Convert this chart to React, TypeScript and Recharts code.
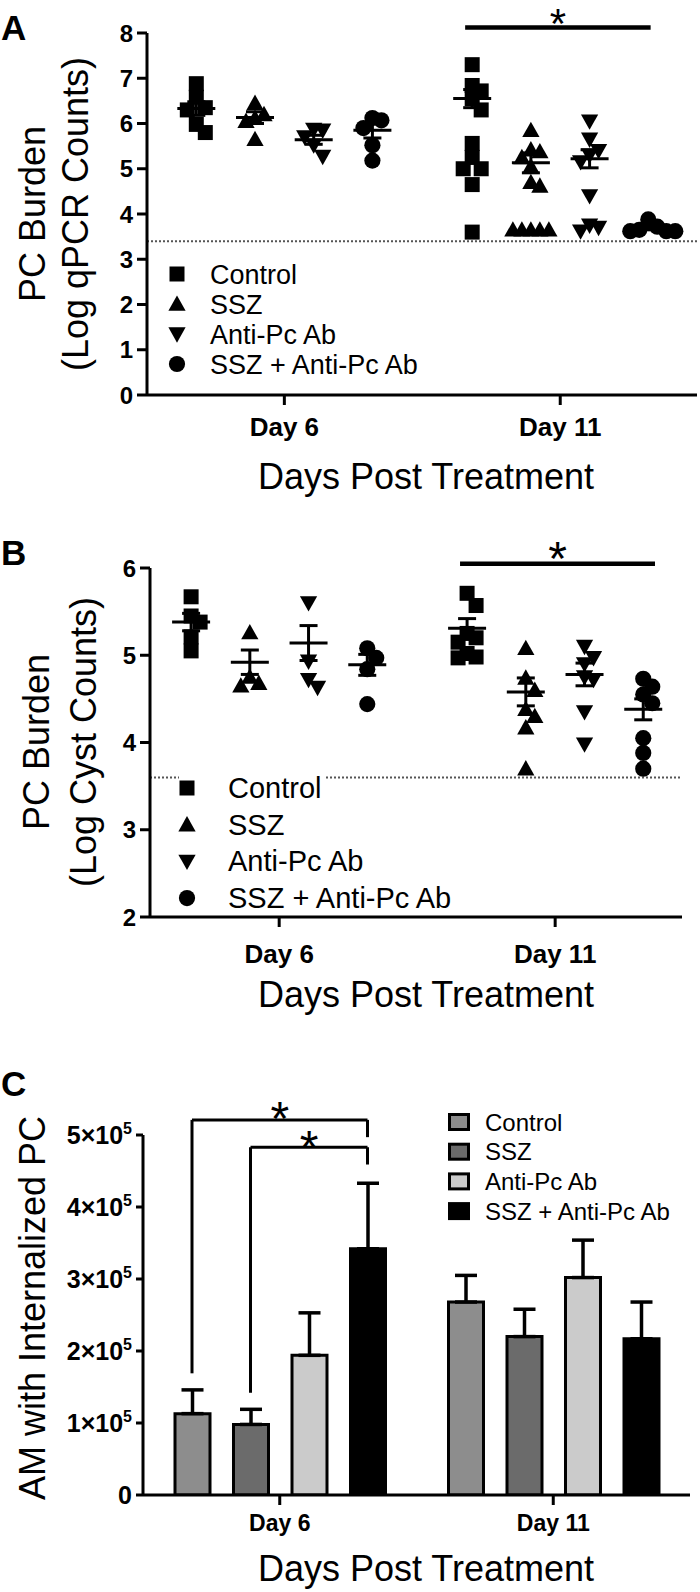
import React from "react";
import {
  ScatterChart,
  Scatter,
  BarChart,
  Bar,
  XAxis,
  YAxis,
  ReferenceLine,
  ErrorBar,
} from "recharts";

const FONT = "'Liberation Sans', Arial, Helvetica, sans-serif";
const INK = "#000";
const W = 700;

const groups = ["Control", "SSZ", "Anti-Pc Ab", "SSZ + Anti-Pc Ab"];
const days = ["Day 6", "Day 11"];

// A: PC burden, log qPCR counts — one inner list per day (day 6, day 11)
const qpcrControl = [
  [6.88, 6.58, 6.35, 6.3, 5.98, 5.8],
  [7.3, 6.84, 6.72, 6.55, 6.3, 5.56, 5.25, 5.0, 5.0, 4.65, 3.6],
];
const qpcrSsz = [
  [6.45, 6.2, 6.12, 6.05, 5.65],
  [5.85, 5.42, 5.38, 5.25, 5.05, 4.7, 4.62, 3.65, 3.65, 3.65, 3.65, 3.65],
];
const qpcrAnti = [
  [5.87, 5.85, 5.7, 5.52, 5.27],
  [6.05, 5.65, 5.4, 5.3, 5.15, 4.4, 3.75, 3.7, 3.62],
];
const qpcrCombo = [
  [6.12, 6.07, 5.9, 5.52, 5.18],
  [3.88, 3.72, 3.65, 3.62, 3.62, 3.62],
];
const qpcrMean = [[6.33, 6.55], [6.13, 5.13], [5.64, 5.22], [5.85, 3.68]];
const qpcrSem = [[0.15, 0.2], [0.13, 0.22], [0.1, 0.2], [0.17, 0.03]];
const qpcrTicks = [0, 1, 2, 3, 4, 5, 6, 7, 8];
const qpcrLimit = 3.4;

// B: PC burden, log cyst counts
const cystControl = [
  [5.67, 5.45, 5.38, 5.21, 5.05],
  [5.71, 5.57, 5.25, 5.2, 5.15, 5.02, 4.98, 4.97],
];
const cystSsz = [
  [5.26, 4.75, 4.68, 4.65],
  [5.08, 4.74, 4.6, 4.38, 4.3, 4.17, 3.7],
];
const cystAnti = [
  [5.6, 4.93, 4.72, 4.63],
  [5.1, 4.97, 4.9, 4.75, 4.72, 4.35, 3.98],
];
const cystCombo = [
  [5.08, 4.97, 4.84, 4.44],
  [4.73, 4.64, 4.55, 4.45, 4.05, 3.88, 3.7],
];
const cystMean = [[5.38, 5.31], [4.92, 4.58], [5.14, 4.78], [4.89, 4.38]];
const cystSem = [[0.1, 0.11], [0.14, 0.16], [0.2, 0.13], [0.12, 0.12]];
const cystTicks = [2, 3, 4, 5, 6];
const cystLimit = 3.6;

// C: AM with internalized PC (mean, SEM) per group, [day 6, day 11]
const amMean = [[1.13e5, 2.68e5], [0.98e5, 2.2e5], [1.94e5, 3.02e5], [3.42e5, 2.17e5]];
const amSem = [[0.33e5, 0.37e5], [0.21e5, 0.38e5], [0.59e5, 0.52e5], [0.91e5, 0.51e5]];
const amTicks = [0, 1e5, 2e5, 3e5, 4e5, 5e5];
const amFills = ["#8d8d8d", "#6b6b6b", "#cbcbcb", "#000000"];
// day-6 comparisons: [from group, to group, bracket height]
const amBrackets = [
  [0, 3, 5.21e5],
  [1, 3, 4.83e5],
];

const DAY_GAP = 4.7;

function Marker({ cx, cy, kind, s = 15 }: { cx: number; cy: number; kind: number; s?: number }) {
  const h = s / 2;
  if (kind === 0) return <rect x={cx - h} y={cy - h} width={s} height={s} fill={INK} />;
  if (kind === 3) return <circle cx={cx} cy={cy} r={h + 0.6} fill={INK} />;
  const t = h * 1.15;
  const d = kind === 1 ? 1 : -1;
  return (
    <polygon
      points={`${cx},${cy - d * t} ${cx + t},${cy + d * h * 0.9} ${cx - t},${cy + d * h * 0.9}`}
      fill={INK}
    />
  );
}

// simple beeswarm: spread points that sit too close vertically
function swarm(vals: number[], pxY: number, step = 9, gap = 13) {
  const order = vals.map((_, i) => i).sort((a, b) => vals[b] - vals[a]);
  const placed: { dx: number; y: number }[] = [];
  const out = vals.map(() => 0);
  for (const i of order) {
    const y = vals[i] * pxY;
    for (let k = 0; k < 30; k++) {
      const dx = k === 0 ? 0 : (k % 2 ? 1 : -1) * Math.ceil(k / 2) * step;
      if (placed.every((p) => Math.abs(p.dx - dx) >= step || Math.abs(p.y - y) >= gap)) {
        placed.push({ dx, y });
        out[i] = dx;
        break;
      }
    }
  }
  return out;
}

const star = (dy: number, size: number) => (p: any) => {
  const vb = p.viewBox ?? p;
  return (
    <text x={vb.x + vb.width / 2} y={vb.y + dy} textAnchor="middle" fontSize={size} fontFamily={FONT} fill={INK}>
      *
    </text>
  );
};

type DotCfg = {
  top: number;
  height: number;
  margin: { top: number; right: number; bottom: number; left: number };
  xDomain: [number, number];
  yDomain: [number, number];
  yTicks: number[];
  series: number[][][];
  mean: number[][];
  sem: number[][];
  limit: number;
  sig: { from: number; to: number; level: number; dy: number; size: number };
  tickGap: number;
};

const Y_W = 60;
const X_H = 44;
const axisLine = { stroke: INK, strokeWidth: 3 };
const tickFont = { fontSize: 24, fontWeight: 700, fill: INK, fontFamily: FONT };

function DotPanel({ cfg }: { cfg: DotCfg }) {
  const { margin, xDomain, yDomain } = cfg;
  const plotW = W - margin.left - margin.right - Y_W;
  const plotH = cfg.height - margin.top - margin.bottom - X_H;
  const unitX = plotW / (xDomain[1] - xDomain[0]);
  const pxY = plotH / (yDomain[1] - yDomain[0]);
  const dayTicks = days.map((_, d) => d * DAY_GAP + 1.5);
  const summary = groups.flatMap((_, g) =>
    days.map((__, d) => ({ x: d * DAY_GAP + g, y: cfg.mean[g][d], err: cfg.sem[g][d] }))
  );
  return (
    <div style={{ position: "absolute", left: 0, top: cfg.top, width: W, height: cfg.height }}>
      <ScatterChart width={W} height={cfg.height} margin={margin}>
        <XAxis
          type="number"
          dataKey="x"
          domain={xDomain}
          allowDataOverflow
          ticks={dayTicks}
          interval={0}
          tickFormatter={(_v: number, i: number) => days[i]}
          height={X_H}
          axisLine={axisLine}
          tickLine={axisLine}
          tickSize={10}
          tickMargin={cfg.tickGap}
          tick={{ ...tickFont, fontSize: 26 }}
        />
        <YAxis
          type="number"
          dataKey="y"
          domain={yDomain}
          allowDataOverflow
          ticks={cfg.yTicks}
          interval={0}
          width={Y_W}
          axisLine={axisLine}
          tickLine={axisLine}
          tickSize={10}
          tickMargin={4}
          tick={tickFont}
        />
        <ReferenceLine y={cfg.limit} stroke="#555" strokeWidth={2} strokeDasharray="2 2" />
        {cfg.series.map((s, g) => {
          const pts = s.flatMap((vals, d) => {
            const off = swarm(vals, pxY);
            return vals.map((v, i) => ({ x: d * DAY_GAP + g + off[i] / unitX, y: v }));
          });
          return (
            <Scatter
              key={g}
              name={groups[g]}
              data={pts}
              isAnimationActive={false}
              shape={(p: any) => <Marker cx={p.cx} cy={p.cy} kind={g} />}
            />
          );
        })}
        <Scatter
          data={summary}
          isAnimationActive={false}
          shape={(p: any) => (
            <line x1={p.cx - 19} x2={p.cx + 19} y1={p.cy} y2={p.cy} stroke={INK} strokeWidth={3} />
          )}
        >
          <ErrorBar dataKey="err" direction="y" width={9} strokeWidth={3} stroke={INK} />
        </Scatter>
        <ReferenceLine
          segment={[
            { x: cfg.sig.from, y: cfg.sig.level },
            { x: cfg.sig.to, y: cfg.sig.level },
          ]}
          ifOverflow="visible"
          stroke={INK}
          strokeWidth={4.5}
          label={star(cfg.sig.dy, cfg.sig.size)}
        />
      </ScatterChart>
    </div>
  );
}

const panelA: DotCfg = {
  top: 0,
  height: 454,
  margin: { top: 33, right: 3, bottom: 15, left: 87 },
  xDomain: [-0.84, 8.53],
  yDomain: [0, 8],
  yTicks: qpcrTicks,
  series: [qpcrControl, qpcrSsz, qpcrAnti, qpcrCombo],
  mean: qpcrMean,
  sem: qpcrSem,
  limit: qpcrLimit,
  sig: { from: 4.58, to: 7.74, level: 8.12, dy: 10.5, size: 42 },
  tickGap: 13,
};

const panelB: DotCfg = {
  top: 500,
  height: 474,
  margin: { top: 68, right: 18, bottom: 13, left: 90 },
  xDomain: [-0.7, 8.36],
  yDomain: [2, 6],
  yTicks: cystTicks,
  series: [cystControl, cystSsz, cystAnti, cystCombo],
  mean: cystMean,
  sem: cystSem,
  limit: cystLimit,
  sig: { from: 4.58, to: 7.9, level: 6.05, dy: 11, size: 48 },
  tickGap: 18,
};

// panel C layout
const C_TOP = 1060;
const C_H = 490;
const C_MARGIN = { top: 75, right: 10, bottom: 11, left: 73 };
const C_YW = 70;
const BAR = 35;
const BAR_GAP = 23.5;

function AmTick(p: any) {
  const v = p.payload.value as number;
  return (
    <text x={p.x} y={p.y} dy="0.36em" textAnchor="end" fontSize={25} fontWeight={700} fontFamily={FONT} fill={INK}>
      {v === 0 ? (
        "0"
      ) : (
        <>
          {v / 1e5}×10
          <tspan dy={-10} fontSize={16}>
            5
          </tspan>
        </>
      )}
    </text>
  );
}

function BarPanel() {
  const plotW = W - C_MARGIN.left - C_MARGIN.right - C_YW;
  const unit = BAR + BAR_GAP;
  const d0 = -(plotW / 4 - 1.5 * unit) / unit;
  const slotDomain: [number, number] = [d0, d0 + plotW / unit];
  const rows = days.map((day, d) => {
    const r: Record<string, any> = { day };
    groups.forEach((_, g) => {
      r[`m${g}`] = amMean[g][d];
      r[`e${g}`] = [0, amSem[g][d]];
    });
    return r;
  });
  const legGap = 0.23e5;
  const drop = 0.24e5;
  return (
    <div style={{ position: "absolute", left: 0, top: C_TOP, width: W, height: C_H }}>
      <BarChart width={W} height={C_H} data={rows} margin={C_MARGIN} barGap={BAR_GAP}>
        <XAxis
          dataKey="day"
          height={X_H}
          axisLine={axisLine}
          tickLine={axisLine}
          tickSize={10}
          tickMargin={10}
          tick={{ ...tickFont, fontSize: 23 }}
        />
        <XAxis xAxisId="slot" type="number" dataKey="slot" domain={slotDomain} allowDataOverflow hide />
        <YAxis
          type="number"
          domain={[0, 5e5]}
          allowDataOverflow
          ticks={amTicks}
          interval={0}
          width={C_YW}
          axisLine={axisLine}
          tickLine={axisLine}
          tickSize={7}
          tickMargin={4}
          tick={(p: any) => <AmTick {...p} />}
        />
        {groups.map((name, g) => (
          <Bar
            key={g}
            dataKey={`m${g}`}
            name={name}
            fill={amFills[g]}
            stroke={INK}
            strokeWidth={3}
            barSize={BAR}
            isAnimationActive={false}
          >
            <ErrorBar dataKey={`e${g}`} direction="y" width={11} strokeWidth={3.5} stroke={INK} />
          </Bar>
        ))}
        {amBrackets.map(([from, to, top], k) => {
          const leftEnd = amMean[from][0] + amSem[from][0] + legGap;
          return (
            <React.Fragment key={k}>
              <ReferenceLine
                xAxisId="slot"
                ifOverflow="visible"
                stroke={INK}
                strokeWidth={3}
                segment={[{ x: from, y: leftEnd }, { x: from, y: top }]}
              />
              <ReferenceLine
                xAxisId="slot"
                ifOverflow="visible"
                stroke={INK}
                strokeWidth={3}
                segment={[{ x: from, y: top }, { x: to, y: top }]}
                label={star(k === 0 ? 15 : 17, 48)}
              />
              <ReferenceLine
                xAxisId="slot"
                ifOverflow="visible"
                stroke={INK}
                strokeWidth={3}
                segment={[{ x: to, y: top }, { x: to, y: top - drop }]}
              />
            </React.Fragment>
          );
        })}
      </BarChart>
    </div>
  );
}

function Overlay() {
  const t = { fontFamily: FONT, fill: INK };
  const legA = groups.map((g, i) => ({ g, y: 274 + i * 30 }));
  const legB = groups.map((g, i) => ({ g, y: 788 + i * 36.7 }));
  const legC = groups.map((g, i) => ({ g, y: 1122 + i * 29.7 }));
  return (
    <svg width={W} height={1592} style={{ position: "absolute", left: 0, top: 0, pointerEvents: "none" }}>
      <text x={1} y={40} fontSize={35} fontWeight={700} {...t}>A</text>
      <text x={1} y={565} fontSize={35} fontWeight={700} {...t}>B</text>
      <text x={1} y={1096} fontSize={35} fontWeight={700} {...t}>C</text>

      <text transform="translate(45,214) rotate(-90)" textAnchor="middle" fontSize={36} {...t}>PC Burden</text>
      <text transform="translate(88,214) rotate(-90)" textAnchor="middle" fontSize={36} {...t}>(Log qPCR Counts)</text>
      <text transform="translate(49,742) rotate(-90)" textAnchor="middle" fontSize={36} {...t}>PC Burden</text>
      <text transform="translate(96,742) rotate(-90)" textAnchor="middle" fontSize={36} {...t}>(Log Cyst Counts)</text>
      <text transform="translate(45,1308) rotate(-90)" textAnchor="middle" fontSize={36} {...t}>AM with Internalized PC</text>

      <text x={426} y={489} textAnchor="middle" fontSize={36} {...t}>Days Post Treatment</text>
      <text x={426} y={1007} textAnchor="middle" fontSize={36} {...t}>Days Post Treatment</text>
      <text x={426} y={1581} textAnchor="middle" fontSize={36} {...t}>Days Post Treatment</text>

      {legA.map(({ g, y }, i) => (
        <g key={`a${i}`}>
          <Marker cx={177} cy={y} kind={i} />
          <text x={210} y={y + 9.5} fontSize={27} {...t}>{g}</text>
        </g>
      ))}
      <rect x={179} y={legB[0].y - 14} width={145} height={28} fill="#fff" />
      {legB.map(({ g, y }, i) => (
        <g key={`b${i}`}>
          <Marker cx={187} cy={y} kind={i} />
          <text x={228} y={y + 10} fontSize={29} {...t}>{g}</text>
        </g>
      ))}
      {legC.map(({ g, y }, i) => (
        <g key={`c${i}`}>
          <rect x={449.5} y={y - 7.5} width={19} height={15} fill={amFills[i]} stroke={INK} strokeWidth={3} />
          <text x={485} y={y + 8.6} fontSize={24} {...t}>{g}</text>
        </g>
      ))}
    </svg>
  );
}

export default function App() {
  return (
    <div style={{ position: "absolute", left: 0, top: 0, width: W, height: 1592, background: "#fff", fontFamily: FONT }}>
      <DotPanel cfg={panelA} />
      <DotPanel cfg={panelB} />
      <BarPanel />
      <Overlay />
    </div>
  );
}
